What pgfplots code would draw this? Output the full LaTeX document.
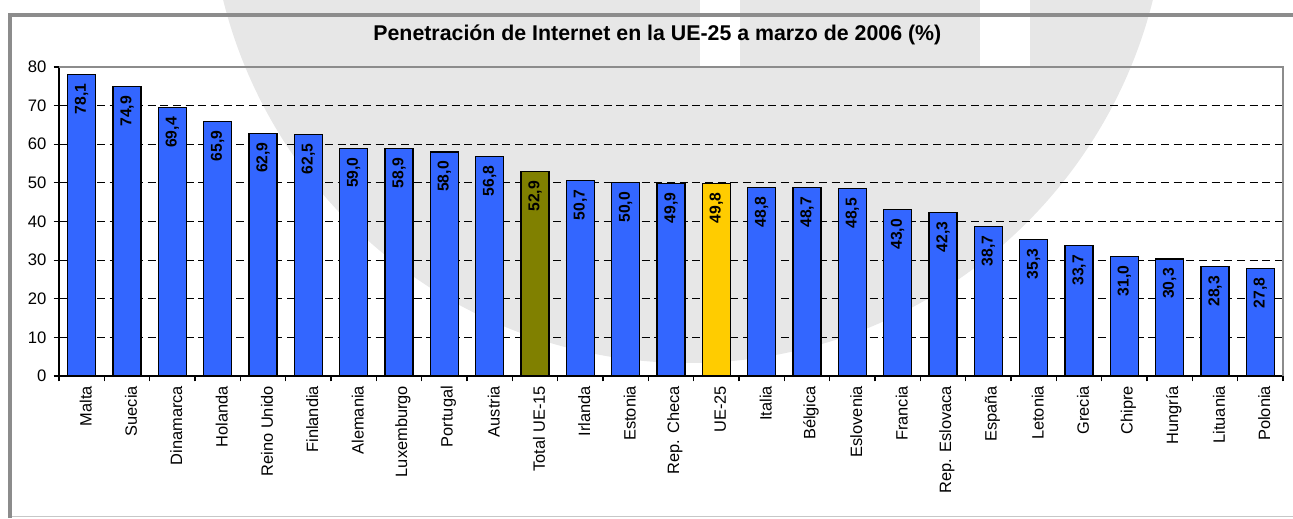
\documentclass[border=0pt]{standalone}
\usepackage{pgfplots}
\pgfplotsset{compat=1.18}
\usepackage{fontspec}
\setmainfont{Liberation Sans}
\definecolor{barblue}{HTML}{3366FF}
\definecolor{barolive}{HTML}{808000}
\definecolor{baryellow}{HTML}{FFCC00}
\definecolor{framegray}{HTML}{8C8C8C}
\definecolor{wmgray}{HTML}{E7E7E7}
\begin{document}
\begin{tikzpicture}
\useasboundingbox (0,0) rectangle (969.75pt,388.5pt);
% watermark
\begin{scope}
\clip (0,0) rectangle (969.75pt,388.5pt);
\fill[wmgray] (516pt,475.5pt) circle[radius=359.25pt];
\fill[white] (525pt,338pt) rectangle (555pt,388.5pt);
\fill[white] (735pt,338pt) rectangle (772.5pt,388.5pt);
\end{scope}
\draw[black!22, line width=0.75pt] (7.5pt,1.2pt) -- (969.75pt,1.2pt);
\draw[framegray, line width=3.4pt] (7.5pt,0pt) -- (7.5pt,377.25pt) -- (969.75pt,377.25pt);
\node[font=\bfseries\fontsize{16pt}{18pt}\selectfont] at (493pt,362pt) {Penetración de Internet en la UE-25 a marzo de 2006 (\%)};
\begin{axis}[
  at={(44.25pt,106.5pt)}, anchor=south west,
  scale only axis, width=918pt, height=231.75pt,
  xmin=-0.5, xmax=26.5, ymin=0, ymax=80,
  ytick={0,10,...,80},
  xtick={0,...,26},
  xticklabels={Malta,Suecia,Dinamarca,Holanda,Reino Unido,Finlandia,Alemania,Luxemburgo,Portugal,Austria,Total UE-15,Irlanda,Estonia,Rep. Checa,UE-25,Italia,Bélgica,Eslovenia,Francia,Rep. Eslovaca,España,Letonia,Grecia,Chipre,Hungría,Lituania,Polonia},
  minor xtick={-0.5,0.5,...,26.5},
  xtick pos=bottom, ytick pos=left,
  tick align=outside,
  major tick length=4pt, minor tick length=4pt,
  x tick style={draw=none},
  minor x tick style={draw=black, line width=0.9pt},
  y tick style={black, line width=0.9pt},
  ymajorgrids,
  grid style={black, dash pattern=on 6pt off 3.5pt, line width=0.6pt},
  axis line style={black, line width=1.1pt},
  /pgf/number format/assume math mode=true,
  yticklabel style={font=\fontsize{12.5pt}{14pt}\selectfont, xshift=-2pt},
  xticklabel style={font=\fontsize{12.3pt}{14pt}\selectfont, rotate=90, anchor=east, yshift=-3pt},
  ybar, bar width=21pt, bar shift=0pt,
  nodes near coords,
  every node near coord/.append style={font=\bfseries\fontsize{11.8pt}{13pt}\selectfont, rotate=90, anchor=east, inner xsep=6.5pt, black,
    /pgf/number format/fixed, /pgf/number format/fixed zerofill, /pgf/number format/precision=1, /pgf/number format/use comma},
  clip=false,
]
\addplot[fill=barblue, draw=black, line width=0.8pt] coordinates {
(0,78.1) (1,74.9) (2,69.4) (3,65.9) (4,62.9) (5,62.5) (6,59.0) (7,58.9) (8,58.0) (9,56.8)
(11,50.7) (12,50.0) (13,49.9) (15,48.8) (16,48.7) (17,48.5) (18,43.0) (19,42.3) (20,38.7)
(21,35.3) (22,33.7) (23,31.0) (24,30.3) (25,28.3) (26,27.8)};
\addplot[fill=barolive, draw=black, line width=0.8pt] coordinates {(10,52.9)};
\addplot[fill=baryellow, draw=black, line width=0.8pt] coordinates {(14,49.8)};
\draw[framegray, line width=1.3pt] (rel axis cs:0,1) -- (rel axis cs:1,1) -- (rel axis cs:1,0);
\end{axis}
\end{tikzpicture}
\end{document}
